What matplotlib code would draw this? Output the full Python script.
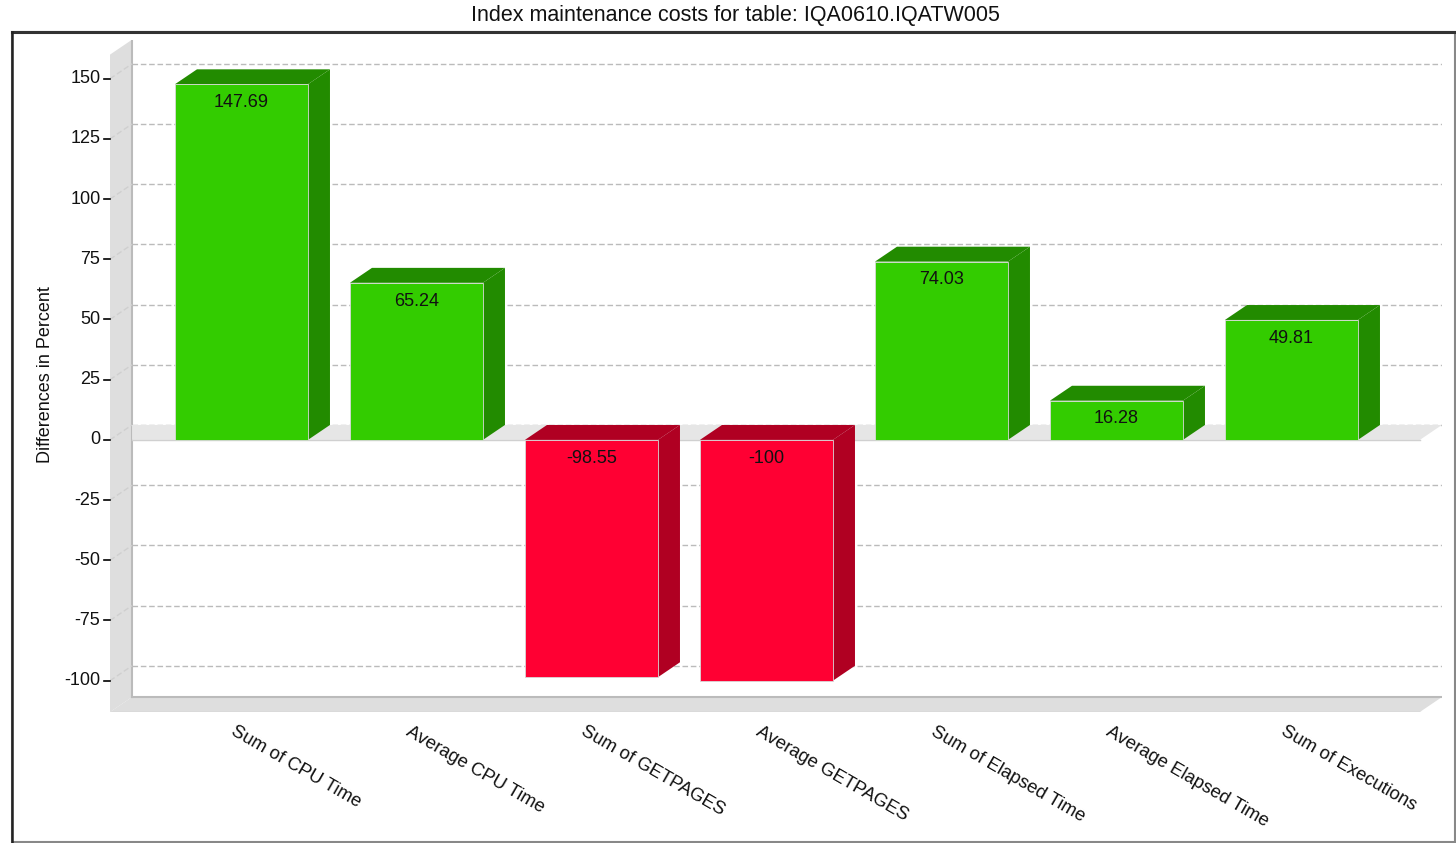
import matplotlib
matplotlib.use('Agg')
import matplotlib.pyplot as plt
from matplotlib.patches import Polygon, Rectangle

plt.rcParams['font.family'] = ['Liberation Sans', 'DejaVu Sans']

title = 'Index maintenance costs for table: IQA0610.IQATW005'
categories = ['Sum of CPU Time', 'Average CPU Time', 'Sum of GETPAGES',
              'Average GETPAGES', 'Sum of Elapsed Time', 'Average Elapsed Time',
              'Sum of Executions']
values = [147.69, 65.24, -98.55, -100, 74.03, 16.28, 49.81]
value_labels = ['147.69', '65.24', '-98.55', '-100', '74.03', '16.28', '49.81']
yticks = [-100, -75, -50, -25, 0, 25, 50, 75, 100, 125, 150]
ylabel = 'Differences in Percent'

# pseudo 3d settings (data units)
dx = 0.126
dy = 6.2
w = 0.76
xl, xr = -0.751, 6.734
ybot, ytop = -113, 160

green, green_dark = '#33cc00', '#228b00'
red, red_dark = '#ff0033', '#b00022'
wall = '#dedede'

fig = plt.figure(figsize=(14.56, 8.43), dpi=100)
ax = fig.add_axes([110/1456, (843-712)/843, 1332/1456, 672/843])
ax.set_xlim(xl, xl + 1332/175)
ax.set_ylim(ybot, ybot + 672/2.408)
ax.axis('off')

# left wall
ax.add_patch(Polygon([(xl, ybot), (xl, ytop), (xl+dx, ytop+dy), (xl+dx, ybot+dy)],
                     closed=True, fc=wall, ec='none', zorder=1))
ax.plot([xl+dx, xl+dx], [ybot+dy, ytop+dy], color='#bbbbbb', lw=1.5, zorder=2)
# bottom floor
ax.add_patch(Polygon([(xl, ybot), (xr, ybot), (xr+dx, ybot+dy), (xl+dx, ybot+dy)],
                     closed=True, fc=wall, ec='none', zorder=1))
ax.plot([xl+dx, xr+dx], [ybot+dy, ybot+dy], color='#bbbbbb', lw=1.5, zorder=2)
ax.plot([xl, xr], [ybot, ybot], color='#cccccc', lw=1, zorder=2)

# grid lines on back wall + diagonals on side wall
for t in yticks:
    ax.plot([xl+dx, xr+dx], [t+dy, t+dy], color='#bbbbbb', lw=1, ls=(0, (4, 2)), zorder=2)
    ax.plot([xl, xl+dx], [t, t+dy], color='#cfcfcf', lw=1, ls=(0, (4, 2)), zorder=2)
    ax.plot([xl-0.035, xl], [t, t], color='black', lw=1.2, zorder=3, clip_on=False)
    ax.text(xl-0.055, t, str(t), ha='right', va='center', fontsize=13, color='#111111')

# zero plane
ax.add_patch(Polygon([(xl+dx, 0), (xr, 0), (xr+dx, dy), (xl+dx, dy)],
                     closed=True, fc='#e6e6e6', ec='none', zorder=3))
ax.plot([xl+dx, xr], [0, 0], color='#d0d0d0', lw=1, zorder=3)

# bars
for i, v in enumerate(values):
    front, dark = (green, green_dark) if v >= 0 else (red, red_dark)
    top = max(v, 0)
    bot = min(v, 0)
    left, right = i - w/2, i + w/2
    ax.add_patch(Polygon([(right, bot), (right, top), (right+dx, top+dy), (right+dx, bot+dy)],
                         closed=True, fc=dark, ec='none', zorder=4))
    ax.add_patch(Polygon([(left, top), (right, top), (right+dx, top+dy), (left+dx, top+dy)],
                         closed=True, fc=dark, ec='none', zorder=4))
    ax.add_patch(Rectangle((left, bot), w, top-bot, fc=front, ec='#d8d8d8', lw=0.6, zorder=5))
    ax.annotate(value_labels[i], (i, top), xytext=(0, -7), textcoords='offset points',
                ha='center', va='top', fontsize=13, color='#111111', zorder=6)
    ax.annotate(categories[i], (i - 0.03, ybot), xytext=(0, -8), textcoords='offset points',
                ha='left', va='top', rotation=-30, rotation_mode='anchor',
                fontsize=13.2, color='#111111', annotation_clip=False)

ax.text(-0.0485, 0.5015, ylabel, transform=ax.transAxes, rotation=90,
        ha='center', va='center', fontsize=13, color='#111111')

fig.text(735/1456, 1 - 16/843, title, ha='center', va='center', fontsize=15.5, color='#111111')

# outer frame
fig.patches.append(Rectangle((12/1456, 1/843), 1443/1456, (843-32-1)/843,
                             transform=fig.transFigure, fill=False, ec='#888888', lw=1.5))
fig.add_artist(plt.Line2D([12/1456, 1], [1 - 32/843, 1 - 32/843],
                          transform=fig.transFigure, color='#333333', lw=2.2))
fig.add_artist(plt.Line2D([12/1456, 12/1456], [1/843, 1 - 32/843],
                          transform=fig.transFigure, color='#222222', lw=1.8))

fig.savefig('out.png', dpi=100)
